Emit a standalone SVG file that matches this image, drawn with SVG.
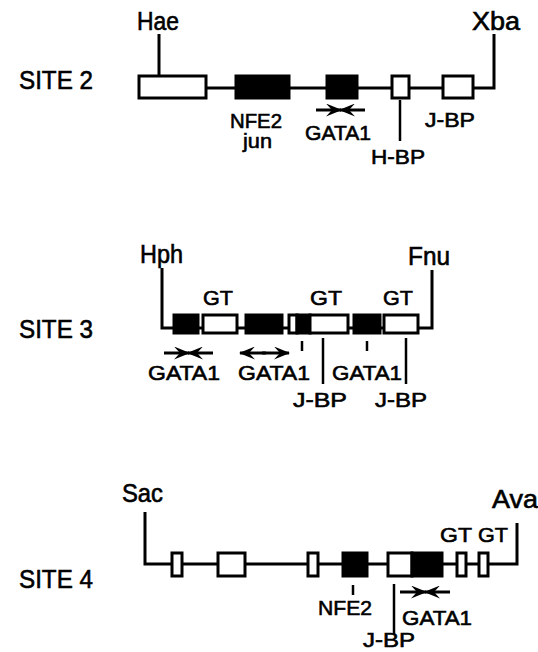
<svg xmlns="http://www.w3.org/2000/svg" width="538" height="652" viewBox="0 0 538 652">
<defs>
<marker id="ah" viewBox="0 0 16 13" refX="15" refY="6.5" markerWidth="16" markerHeight="13" markerUnits="userSpaceOnUse" orient="auto">
<path d="M0,0 L16,6.5 L0,13 L6,6.5 z" fill="#000"/>
</marker>
<style>
text{font-family:"Liberation Sans",Arial,sans-serif;fill:#000;stroke:#000;stroke-width:0.6}
.site{font-size:26px}
.lbl{font-size:21px}
.enz{font-size:25px}
.ln{stroke:#000;stroke-width:3;fill:none}
.thin{stroke:#000;stroke-width:2.5;fill:none}
.w{fill:#fff;stroke:#000;stroke-width:3}
.b{fill:#000;stroke:#000;stroke-width:3}
.arr{stroke:#000;stroke-width:3;fill:none;marker-end:url(#ah)}
</style>
</defs>
<rect width="538" height="652" fill="#fff"/>

<g id="connectors">
<!-- site 2 -->
<polyline class="ln" points="159,34 159,76"/>
<polyline class="ln" points="206,88 494,88 494,34"/>
<line class="thin" x1="400" y1="100" x2="400" y2="141"/>
<line class="arr" x1="316" y1="110" x2="341" y2="110"/>
<line class="arr" x1="365" y1="110" x2="340" y2="110"/>
<!-- site 3 -->
<polyline class="ln" points="162,268 162,328 432,328 432,270"/>
<line class="arr" x1="164" y1="353" x2="189" y2="353"/>
<line class="arr" x1="213" y1="353" x2="188" y2="353"/>
<line class="arr" x1="266" y1="353" x2="240" y2="353"/>
<line class="arr" x1="262" y1="353" x2="289" y2="353"/>
<line class="thin" x1="302" y1="341" x2="302" y2="351"/>
<line class="thin" x1="367" y1="341" x2="367" y2="351"/>
<line class="thin" x1="323" y1="338" x2="323" y2="384"/>
<line class="thin" x1="406" y1="338" x2="406" y2="384"/>
<!-- site 4 -->
<polyline class="ln" points="145,512 145,564 517,564 517,523"/>
<line class="thin" x1="353" y1="585" x2="353" y2="595"/>
<line class="thin" x1="394" y1="584" x2="394" y2="634"/>
<line class="arr" x1="400" y1="592" x2="426" y2="592"/>
<line class="arr" x1="450" y1="592" x2="425" y2="592"/>
</g>

<g id="site2">
<text class="site" x="19" y="89" textLength="74" lengthAdjust="spacingAndGlyphs">SITE 2</text>
<text class="enz" x="137" y="30" font-size="27" textLength="42" lengthAdjust="spacingAndGlyphs">Hae</text>
<text class="enz" x="472" y="30" font-size="27" textLength="48" lengthAdjust="spacingAndGlyphs">Xba</text>
<rect class="w" x="139" y="76" width="67" height="22"/>
<rect class="b" x="236" y="76" width="53" height="22"/>
<rect class="b" x="327" y="76" width="30" height="22"/>
<rect class="w" x="392" y="76" width="17" height="22"/>
<rect class="w" x="443" y="76" width="30" height="22"/>
<text class="lbl" x="230" y="128" textLength="52" lengthAdjust="spacingAndGlyphs">NFE2</text>
<text class="lbl" x="243" y="148" textLength="29" lengthAdjust="spacingAndGlyphs">jun</text>
<text class="lbl" x="305" y="140" textLength="66" lengthAdjust="spacingAndGlyphs">GATA1</text>
<text class="lbl" x="371" y="164" textLength="54" lengthAdjust="spacingAndGlyphs">H-BP</text>
<text class="lbl" x="425" y="127" textLength="50" lengthAdjust="spacingAndGlyphs">J-BP</text>
</g>

<g id="site3">
<text class="site" x="19" y="338" textLength="74" lengthAdjust="spacingAndGlyphs">SITE 3</text>
<text class="enz" x="140" y="263" textLength="43" lengthAdjust="spacingAndGlyphs">Hph</text>
<text class="enz" x="408" y="265" textLength="42" lengthAdjust="spacingAndGlyphs">Fnu</text>
<text class="lbl" x="203" y="305" textLength="30" lengthAdjust="spacingAndGlyphs">GT</text>
<text class="lbl" x="310" y="305" textLength="32" lengthAdjust="spacingAndGlyphs">GT</text>
<text class="lbl" x="383" y="305" textLength="30" lengthAdjust="spacingAndGlyphs">GT</text>
<rect class="b" x="174" y="315" width="24" height="18"/>
<rect class="w" x="203" y="315" width="34" height="18"/>
<rect class="b" x="246" y="315" width="36" height="18"/>
<rect class="w" x="289" y="315" width="8" height="18"/>
<rect class="b" x="297" y="315" width="13" height="18"/>
<rect class="w" x="310" y="315" width="38" height="18"/>
<rect class="b" x="354" y="315" width="26" height="18"/>
<rect class="w" x="384" y="315" width="34" height="18"/>
<text class="lbl" x="148" y="380" textLength="72" lengthAdjust="spacingAndGlyphs">GATA1</text>
<text class="lbl" x="238" y="380" textLength="72" lengthAdjust="spacingAndGlyphs">GATA1</text>
<text class="lbl" x="332" y="380" textLength="70" lengthAdjust="spacingAndGlyphs">GATA1</text>
<text class="lbl" x="293" y="407" textLength="54" lengthAdjust="spacingAndGlyphs">J-BP</text>
<text class="lbl" x="375" y="407" textLength="52" lengthAdjust="spacingAndGlyphs">J-BP</text>
</g>

<g id="site4">
<text class="site" x="19" y="588" textLength="74" lengthAdjust="spacingAndGlyphs">SITE 4</text>
<text class="enz" x="122" y="502" textLength="41" lengthAdjust="spacingAndGlyphs">Sac</text>
<text class="enz" x="492" y="508" font-size="22" textLength="46" lengthAdjust="spacingAndGlyphs">Ava</text>
<text class="lbl" x="440" y="542" textLength="32" lengthAdjust="spacingAndGlyphs">GT</text>
<text class="lbl" x="478" y="542" textLength="30" lengthAdjust="spacingAndGlyphs">GT</text>
<rect class="w" x="172" y="553" width="10" height="23"/>
<rect class="w" x="218" y="553" width="27" height="23"/>
<rect class="w" x="308" y="553" width="10" height="23"/>
<rect class="b" x="343" y="553" width="24" height="23"/>
<rect class="w" x="388" y="553" width="24" height="23"/>
<rect class="b" x="412" y="553" width="30" height="23"/>
<rect class="w" x="457" y="553" width="9" height="23"/>
<rect class="w" x="479" y="553" width="9" height="23"/>
<text class="lbl" x="318" y="615" textLength="54" lengthAdjust="spacingAndGlyphs">NFE2</text>
<text class="lbl" x="402" y="625" textLength="70" lengthAdjust="spacingAndGlyphs">GATA1</text>
<text class="lbl" x="363" y="647" textLength="52" lengthAdjust="spacingAndGlyphs">J-BP</text>
</g>
</svg>
